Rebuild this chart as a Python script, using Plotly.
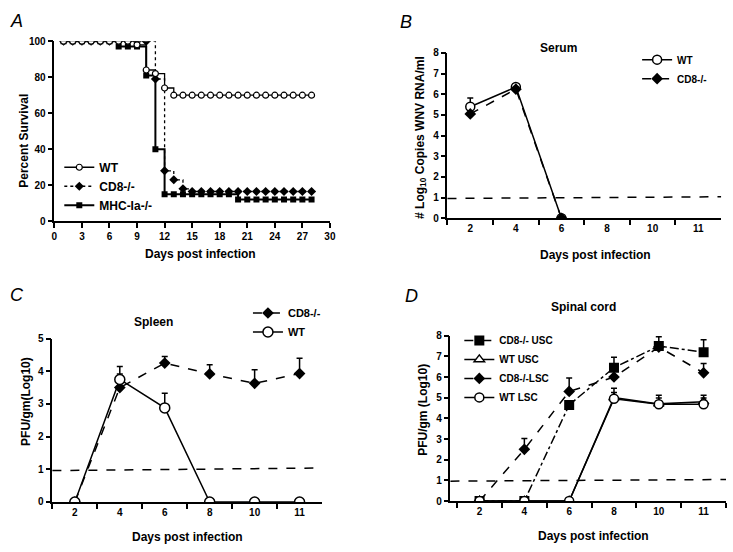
import plotly.graph_objects as go

W, H = 733, 552
FONT = "Arial, Liberation Sans, Helvetica, sans-serif"

# ---------- Panel A data (survival) ----------
days_a = list(range(1, 29))
wt_surv = [100]*8 + [98, 84, 82, 74] + [70]*16
cd8_surv = [100]*10 + [79, 28, 23, 18] + [16.5]*14
mhc_surv = [100]*6 + [97, 97, 97, 81, 40] + [15]*8 + [12]*9

# ---------- Panel B data (serum) ----------
cats = ["2", "4", "6", "8", "10", "11"]
serum_days = ["2", "4", "6"]
serum_wt = [5.4, 6.35, 0]
serum_wt_err = [0.42, 0.12, 0]
serum_cd8 = [5.05, 6.25, 0]
serum_cd8_err = [0.0, 0.1, 0]

# ---------- Panel C data (spleen) ----------
spleen_cd8 = [0, 3.5, 4.25, 3.92, 3.63, 3.93]
spleen_cd8_err = [0, 0.65, 0.2, 0.28, 0.42, 0.47]
spleen_wt = [0, 3.75, 2.88, 0, 0, 0]
spleen_wt_err = [0, 0.17, 0.45, 0, 0, 0]

# ---------- Panel D data (spinal cord) ----------
cd8_usc = [0, 0, 4.65, 6.45, 7.5, 7.2]
cd8_usc_err = [0, 0, 0, 0.5, 0.45, 0.6]
wt_usc = [0, 0, 0, 5.0, 4.7, 4.8]
wt_usc_err = [0, 0, 0, 0.45, 0.42, 0.32]
cd8_lsc = [0, 2.5, 5.3, 6.0, 7.45, 6.2]
cd8_lsc_err = [0, 0.52, 0.65, 0, 0, 0.45]
wt_lsc = [0, 0, 0, 4.95, 4.68, 4.68]
wt_lsc_err = [0, 0, 0, 0.3, 0.3, 0.3]

limit = 1

fig = go.Figure()

def px(x0, x1):
    return [x0 / W, x1 / W]

def py(ytop, ybot):
    return [1 - ybot / H, 1 - ytop / H]

def err(arr):
    return dict(type="data", array=arr, arrayminus=[0]*len(arr), symmetric=False,
                width=3, thickness=1.5, color="black")

# Panel A traces (drawn bottom to top)
fig.add_trace(go.Scatter(x=days_a, y=mhc_surv, mode="lines+markers", name="MHC-Ia-/-",
                         line=dict(color="black", width=2, shape="hv"),
                         marker=dict(symbol="square", size=6, color="black"),
                         xaxis="x", yaxis="y", legend="legend", legendrank=3))
fig.add_trace(go.Scatter(x=days_a, y=cd8_surv, mode="lines+markers", name="CD8-/-",
                         line=dict(color="black", width=1.3, shape="hv", dash="dot"),
                         marker=dict(symbol="diamond", size=7, color="black"),
                         xaxis="x", yaxis="y", legend="legend", legendrank=2))
fig.add_trace(go.Scatter(x=days_a, y=wt_surv, mode="lines+markers", name="WT",
                         line=dict(color="black", width=1.3, shape="hv"),
                         marker=dict(symbol="circle", size=6, color="white",
                                     line=dict(color="black", width=1.2)),
                         xaxis="x", yaxis="y", legend="legend", legendrank=1))

# Panel B traces
fig.add_trace(go.Scatter(x=serum_days, y=serum_wt, mode="lines+markers", name="WT",
                         line=dict(color="black", width=1.5),
                         marker=dict(symbol="circle", size=9, color="white",
                                     line=dict(color="black", width=1.5)),
                         error_y=err(serum_wt_err),
                         xaxis="x2", yaxis="y2", legend="legend2"))
fig.add_trace(go.Scatter(x=serum_days, y=serum_cd8, mode="lines+markers", name="CD8-/-",
                         line=dict(color="black", width=1.5, dash="dash"),
                         marker=dict(symbol="diamond", size=9, color="black"),
                         error_y=err(serum_cd8_err),
                         xaxis="x2", yaxis="y2", legend="legend2"))

# Panel C traces
fig.add_trace(go.Scatter(x=cats, y=spleen_cd8, mode="lines+markers", name="CD8-/-",
                         line=dict(color="black", width=1.5, dash="dash"),
                         marker=dict(symbol="diamond", size=9, color="black"),
                         error_y=err(spleen_cd8_err),
                         xaxis="x3", yaxis="y3", legend="legend3"))
fig.add_trace(go.Scatter(x=cats, y=spleen_wt, mode="lines+markers", name="WT",
                         line=dict(color="black", width=1.5),
                         marker=dict(symbol="circle", size=10, color="white",
                                     line=dict(color="black", width=1.5)),
                         error_y=err(spleen_wt_err),
                         xaxis="x3", yaxis="y3", legend="legend3"))

# Panel D traces
fig.add_trace(go.Scatter(x=cats, y=cd8_usc, mode="lines+markers", name="CD8-/- USC",
                         line=dict(color="black", width=1.5, dash="dashdot"),
                         marker=dict(symbol="square", size=10, color="black"),
                         error_y=err(cd8_usc_err),
                         xaxis="x4", yaxis="y4", legend="legend4"))
fig.add_trace(go.Scatter(x=cats, y=wt_usc, mode="lines+markers", name="WT USC",
                         line=dict(color="black", width=1.5),
                         marker=dict(symbol="triangle-up", size=9, color="white",
                                     line=dict(color="black", width=1.5)),
                         error_y=err(wt_usc_err),
                         xaxis="x4", yaxis="y4", legend="legend4"))
fig.add_trace(go.Scatter(x=cats, y=cd8_lsc, mode="lines+markers", name="CD8-/-LSC",
                         line=dict(color="black", width=1.5, dash="dash"),
                         marker=dict(symbol="diamond", size=9, color="black"),
                         error_y=err(cd8_lsc_err),
                         xaxis="x4", yaxis="y4", legend="legend4"))
fig.add_trace(go.Scatter(x=cats, y=wt_lsc, mode="lines+markers", name="WT LSC",
                         line=dict(color="black", width=1.5),
                         marker=dict(symbol="circle", size=9, color="white",
                                     line=dict(color="black", width=1.5)),
                         error_y=err(wt_lsc_err),
                         xaxis="x4", yaxis="y4", legend="legend4"))

tickfont = dict(family=FONT, size=10, color="black", weight="bold")
common = dict(showline=True, linecolor="black", linewidth=1.5, ticks="outside",
              ticklen=5, tickwidth=1.5, tickcolor="black", showgrid=False,
              zeroline=False, tickfont=tickfont, fixedrange=True)

def leg(x, ytop, size):
    return dict(x=x / W, y=1 - ytop / H, xanchor="left", yanchor="top",
                font=dict(family=FONT, size=size, weight="bold", color="black"),
                itemwidth=30, bgcolor="rgba(0,0,0,0)", tracegroupgap=0,
                traceorder="normal")

lay = dict(
    width=W, height=H, margin=dict(l=0, r=0, t=0, b=0),
    paper_bgcolor="white", plot_bgcolor="white",
    font=dict(family=FONT, color="black"),
    xaxis=dict(domain=px(52, 331), range=[0, 30], tickvals=list(range(0, 31, 3)),
               anchor="y", **common),
    yaxis=dict(domain=py(36, 220), range=[0, 100], tickvals=list(range(0, 101, 20)),
               anchor="x", **common),
    xaxis2=dict(domain=px(450, 727), type="category", categoryorder="array",
                categoryarray=cats, range=[-0.5, 5.5], tickson="boundaries",
                anchor="y2", **common),
    yaxis2=dict(domain=py(48, 217), range=[0, 8], dtick=1, anchor="x2", **common),
    xaxis3=dict(domain=px(50, 323), type="category", categoryorder="array",
                categoryarray=cats, range=[-0.5, 5.5], tickson="boundaries",
                anchor="y3", **common),
    yaxis3=dict(domain=py(340, 507), range=[0, 5], dtick=1, anchor="x3", **common),
    xaxis4=dict(domain=px(453, 732), type="category", categoryorder="array",
                categoryarray=cats, range=[-0.65, 5.5], tickson="boundaries",
                anchor="y4", **common),
    yaxis4=dict(domain=py(337, 506), range=[0, 8], dtick=1, anchor="x4", **common),
    legend=leg(57, 150, 12),
    legend2=leg(642, 40, 10),
    legend3=leg(248, 299, 11),
    legend4=leg(462, 327, 10),
    showlegend=True,
)
fig.update_layout(**lay)

# detection limit lines
for xr, yr in [("x2", "y2"), ("x3", "y3"), ("x4", "y4")]:
    fig.add_shape(type="line", xref=f"{xr} domain", yref=yr, x0=0, x1=1,
                  y0=limit - 0.04, y1=limit + 0.04,
                  line=dict(color="black", width=1.5, dash="dash"))

def ann(text, x, y, size=12, angle=0, bold=True, italic=False):
    fig.add_annotation(text=text, x=x / W, y=1 - y / H, xref="paper", yref="paper",
                       showarrow=False, textangle=angle, xanchor="center", yanchor="middle",
                       font=dict(family=FONT, size=size, color="black",
                                 weight="bold" if bold else "normal",
                                 style="italic" if italic else "normal"))

# panel letters
ann("A", 14, 15, size=18, bold=False, italic=True)
ann("B", 408, 16, size=18, bold=False, italic=True)
ann("C", 14, 295, size=18, bold=False, italic=True)
ann("D", 414, 296, size=18, bold=False, italic=True)

# titles
ann("Serum", 562, 43)
ann("Spleen", 152, 323)
ann("Spinal cord", 588, 308)

# axis titles
ann("Percent Survival", 21, 138, angle=-90)
ann("Days post infection", 200, 254)
ann("# Log<sub>10</sub> Copies WNV RNA/ml", 423, 134, angle=-90)
ann("Days post infection", 600, 255)
ann("PFU/gm(Log10)", 24, 404, angle=-90)
ann("Days post infection", 187, 543)
ann("PFU/gm (Log10)", 425, 413, angle=-90)
ann("Days post infection", 598, 542)

fig.write_html("out.html", config={"displayModeBar": False},
               post_script="document.body.style.margin='0';document.body.style.overflow='hidden';")
